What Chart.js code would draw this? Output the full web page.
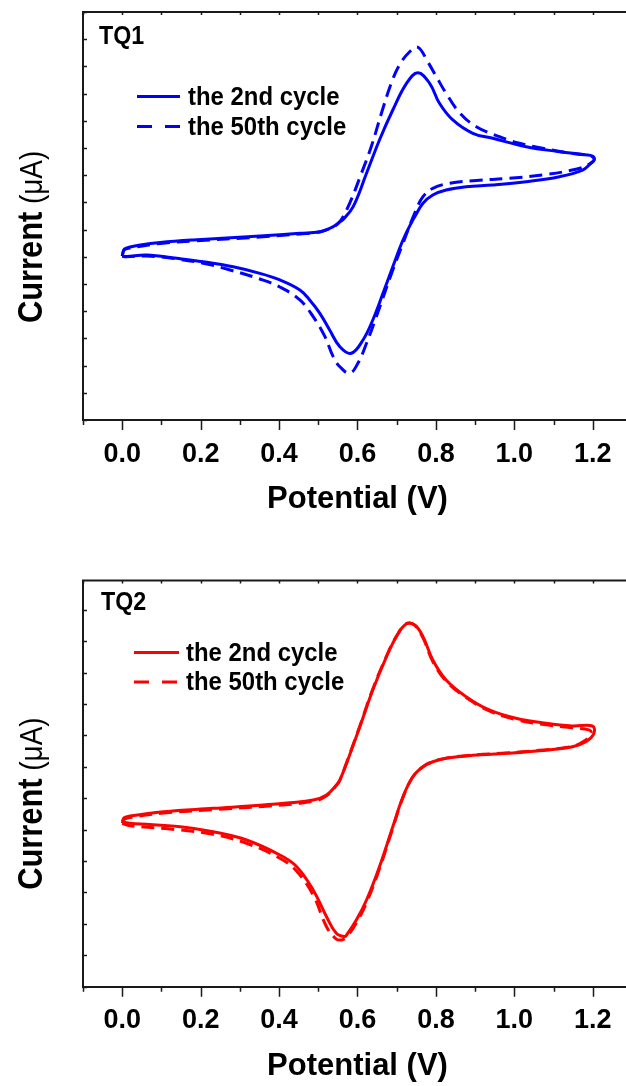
<!DOCTYPE html>
<html>
<head>
<meta charset="utf-8">
<script src="https://cdn.jsdelivr.net/npm/chart.js@4.4.0/dist/chart.umd.min.js"></script>
<style>
html, body { margin: 0; padding: 0; background: #fff; width: 626px; height: 1086px; overflow: hidden; }
canvas { position: absolute; left: 0; }
#tq1 { top: 0; }
#tq2 { top: 556px; }
</style>
</head>
<body>
<canvas id="tq1" width="640" height="530"></canvas>
<canvas id="tq2" width="640" height="530"></canvas>
<script>
// x axis tick labels (V)
const xTickLabels = ['0.0', '0.2', '0.4', '0.6', '0.8', '1.0', '1.2'];
const seriesNames = ['the 2nd cycle', 'the 50th cycle'];

// TQ1, 2nd cycle: potential (V) / current (uA)
const tq1c2V = [0.000, 0.005, 0.020, 0.046, 0.097, 0.181, 0.351, 0.453, 0.504, 0.538,
  0.555, 0.562, 0.589, 0.623, 0.656, 0.690, 0.725, 0.754, 0.784, 0.809,
  0.843, 0.894, 0.945, 1.030, 1.115, 1.180, 1.199, 1.204, 1.195, 1.174,
  1.115, 1.030, 0.945, 0.877, 0.826, 0.792, 0.767, 0.746, 0.741, 0.716,
  0.690, 0.665, 0.639, 0.614, 0.584, 0.555, 0.529, 0.504, 0.478, 0.453,
  0.402, 0.351, 0.283, 0.207, 0.139, 0.063, 0.010, 0.000];
const tq1c2I = [-5.9, -4.9, -4.56, -4.26, -3.90, -3.53, -2.94, -2.54, -2.31, -1.57,
  -0.84, -0.59, 1.37, 6.28, 11.18, 15.59, 19.51, 21.07, 19.51, 16.57,
  14.12, 12.16, 11.43, 10.19, 9.46, 9.0, 8.82, 8.3, 7.75, 6.76,
  5.78, 5.04, 4.56, 4.31, 3.82, 3.09, 1.87, -0.10, -0.59, -3.53,
  -7.46, -11.37, -15.29, -18.24, -20.19, -19.22, -16.76, -14.31, -12.35, -10.88,
  -9.41, -8.43, -7.46, -6.72, -6.22, -5.74, -5.95, -5.9];

// TQ1, 50th cycle
const tq1c50V = [0.000, 0.005, 0.020, 0.097, 0.181, 0.351, 0.453, 0.504, 0.537, 0.555,
  0.580, 0.610, 0.635, 0.661, 0.686, 0.707, 0.733, 0.754, 0.779, 0.801,
  0.826, 0.860, 0.903, 0.962, 1.013, 1.072, 1.140, 1.198, 1.203, 1.190,
  1.157, 1.072, 0.987, 0.903, 0.835, 0.792, 0.767, 0.746, 0.716, 0.690,
  0.648, 0.623, 0.601, 0.580, 0.555, 0.538, 0.517, 0.487, 0.453, 0.402,
  0.351, 0.275, 0.216, 0.139, 0.063, 0.010, 0.000];
const tq1c50I = [-5.9, -5.0, -4.71, -4.04, -3.68, -3.09, -2.65, -2.35, -1.62, -0.84,
  1.87, 6.28, 10.19, 15.10, 19.51, 22.21, 24.16, 24.81, 22.69, 20.49,
  18.04, 15.22, 13.13, 11.66, 10.69, 9.96, 9.26, 8.75, 8.2, 7.6,
  6.87, 6.03, 5.54, 5.22, 4.81, 4.07, 2.84, 0.44, -4.01, -7.94,
  -14.81, -18.72, -21.66, -23.13, -22.16, -20.69, -17.75, -14.81, -12.35, -10.44,
  -9.26, -7.94, -7.06, -6.32, -5.88, -6.0, -5.9];

// TQ2, 2nd cycle
const tq2c2V = [0.000, 0.005, 0.020, 0.105, 0.232, 0.359, 0.487, 0.521, 0.546, 0.555,
  0.580, 0.606, 0.639, 0.674, 0.699, 0.724, 0.746, 0.767, 0.792, 0.826,
  0.877, 0.936, 1.004, 1.081, 1.148, 1.199, 1.203, 1.182, 1.148, 1.064,
  0.979, 0.894, 0.826, 0.792, 0.767, 0.741, 0.716, 0.690, 0.656, 0.623,
  0.597, 0.572, 0.567, 0.546, 0.521, 0.487, 0.445, 0.402, 0.317, 0.232,
  0.148, 0.020, 0.000];
const tq2c2I = [-3.0, -2.5, -2.27, -1.72, -1.29, -0.87, -0.23, 0.40, 1.68, 2.31,
  5.5, 9.10, 13.77, 18.01, 20.56, 22.17, 22.05, 20.56, 17.59, 15.04,
  12.92, 11.23, 10.17, 9.53, 9.19, 9.19, 8.26, 7.19, 6.55, 6.04,
  5.71, 5.46, 5.08, 4.64, 4.01, 2.73, 0.19, -3.63, -8.72, -12.96,
  -15.51, -17.42, -17.63, -17.20, -15.09, -11.69, -8.72, -7.23, -5.32, -4.27,
  -3.63, -3.2, -3.0];

// TQ2, 50th cycle
const tq2c50V = [0.000, 0.005, 0.020, 0.105, 0.232, 0.359, 0.487, 0.521, 0.546, 0.555,
  0.580, 0.606, 0.639, 0.674, 0.699, 0.724, 0.746, 0.767, 0.792, 0.826,
  0.877, 0.936, 1.004, 1.081, 1.148, 1.190, 1.196, 1.182, 1.148, 1.064,
  0.979, 0.894, 0.826, 0.792, 0.767, 0.741, 0.716, 0.690, 0.656, 0.623,
  0.597, 0.572, 0.560, 0.545, 0.521, 0.487, 0.445, 0.402, 0.317, 0.232,
  0.148, 0.020, 0.000];
const tq2c50I = [-3.2, -2.7, -2.45, -1.9, -1.45, -1.05, -0.4, 0.3, 1.6, 2.3,
  5.6, 9.2, 13.9, 18.1, 20.6, 22.2, 22.0, 20.4, 17.4, 14.9,
  12.8, 11.1, 10.0, 9.35, 8.95, 8.7, 8.3, 7.4, 6.6, 6.1,
  5.75, 5.5, 5.1, 4.65, 4.0, 2.7, 0.1, -3.8, -9.0, -13.3,
  -15.9, -17.7, -18.05, -17.9, -16.36, -12.33, -9.3, -7.65, -5.74, -4.6,
  -4.05, -3.5, -3.2];

const FONT = '"Liberation Sans", Arial, sans-serif';
const FRAME = '#1a1a1a';

function pts(vs, is) {
  return vs.map((v, i) => ({ x: v, y: is[i] }));
}

// text a little narrower than the font, like the original figure
function narrowText(ctx, text, x, y, font, sx) {
  ctx.save();
  ctx.font = font;
  ctx.translate(x, y);
  ctx.scale(sx, 1);
  ctx.fillText(text, 0, 0);
  const w = ctx.measureText(text).width * sx;
  ctx.restore();
  return w;
}

// ticks, top border, legend, labels and axis titles
const decor = {
  id: 'decor',
  afterDraw(chart, args, o) {
    const { ctx, chartArea: a, scales: { x, y } } = chart;
    ctx.save();
    ctx.strokeStyle = FRAME;
    ctx.lineWidth = 2;
    ctx.beginPath();
    ctx.moveTo(a.left - 1, a.top);
    ctx.lineTo(a.right + 10, a.top);
    ctx.stroke();

    ctx.lineWidth = 1.5;
    x.ticks.forEach(t => {
      const px = Math.round(x.getPixelForValue(t.value)) + 0.5;
      const major = xTickLabels.includes(t.value.toFixed(1));
      ctx.beginPath();
      ctx.moveTo(px, a.bottom);
      ctx.lineTo(px, a.bottom + (major ? 10 : 5));
      ctx.moveTo(px, a.top);
      ctx.lineTo(px, a.top + 3);
      ctx.stroke();
    });
    y.ticks.forEach(t => {
      const k = (t.value - o.yMin) / o.yStep;
      if (Math.abs(k - Math.round(k)) > 1e-6) return;
      const py = Math.round(y.getPixelForValue(t.value)) + 0.5;
      ctx.beginPath();
      ctx.moveTo(a.left, py);
      ctx.lineTo(a.left + 4, py);
      ctx.stroke();
    });

    ctx.fillStyle = '#000';
    ctx.textBaseline = 'alphabetic';
    ctx.textAlign = 'left';

    // panel label
    narrowText(ctx, o.label, o.labelX, o.labelY, 'bold 25px ' + FONT, 0.93);

    // legend
    chart.data.datasets.forEach((ds, i) => {
      const ly = o.legendY + i * o.legendGap;
      ctx.strokeStyle = ds.borderColor;
      ctx.lineWidth = 3;
      ctx.setLineDash(ds.borderDash ? [15, 13] : []);
      ctx.beginPath();
      ctx.moveTo(o.legendX0, ly);
      ctx.lineTo(o.legendX1, ly);
      ctx.stroke();
      ctx.setLineDash([]);
      narrowText(ctx, ds.label, o.legendTextX, ly + 8, 'bold 26px ' + FONT, 0.92);
    });

    // x title
    ctx.font = 'bold 31px ' + FONT;
    ctx.textAlign = 'center';
    ctx.fillText('Potential (V)', (a.left + a.right) / 2, a.bottom + 88);

    // y title: bold word, lighter unit
    ctx.textAlign = 'left';
    ctx.translate(42, a.bottom - 97);
    ctx.rotate(-Math.PI / 2);
    const w = narrowText(ctx, 'Current', 0, 0, 'bold 35px ' + FONT, 0.88);
    narrowText(ctx, ' (\u03bcA)', w, 0, '31px ' + FONT, 0.9);
    ctx.restore();
  }
};

function makeChart(id, color, d2, d50, yMin, yMax, padTop, xHeight, deco) {
  return new Chart(document.getElementById(id), {
    type: 'scatter',
    data: {
      datasets: [
        { label: seriesNames[0], data: d2, showLine: true, borderColor: color,
          borderWidth: 3, pointRadius: 0, tension: 0.4, fill: false },
        { label: seriesNames[1], data: d50, showLine: true, borderColor: color,
          borderWidth: 3, borderDash: [13, 7], pointRadius: 0, tension: 0.4, fill: false }
      ]
    },
    options: {
      responsive: false,
      animation: false,
      devicePixelRatio: 1,
      layout: { padding: { top: padTop, right: 7, left: 0, bottom: 0 } },
      plugins: {
        legend: { display: false },
        tooltip: { enabled: false },
        decor: Object.assign({ yMin: yMin, yStep: 4 }, deco)
      },
      scales: {
        x: {
          type: 'linear', min: -0.1, max: 1.3,
          afterFit: s => { s.height = xHeight; },
          border: { display: true, color: FRAME, width: 2 },
          grid: { drawOnChartArea: false, tickLength: 10, tickColor: 'rgba(0,0,0,0)' },
          ticks: {
            stepSize: 0.1, autoSkip: false, maxRotation: 0, padding: 8,
            color: '#000', font: { family: FONT, size: 27, weight: 'bold' },
            callback: v => {
              const s = Number(v).toFixed(1);
              return xTickLabels.includes(s) ? s : '';
            }
          }
        },
        y: {
          type: 'linear', min: yMin, max: yMax,
          afterFit: s => { s.width = 83; },
          border: { display: true, color: FRAME, width: 2 },
          grid: { drawOnChartArea: false, drawTicks: false },
          ticks: { display: false, stepSize: 2 }
        }
      }
    },
    plugins: [decor]
  });
}

makeChart('tq1', '#0000ff', pts(tq1c2V, tq1c2I), pts(tq1c50V, tq1c50I), -30, 30, 12, 110, {
  label: 'TQ1', labelX: 99, labelY: 44,
  legendX0: 137, legendX1: 180, legendTextX: 188, legendY: 96.5, legendGap: 30
});
makeChart('tq2', '#ff0000', pts(tq2c2V, tq2c2I), pts(tq2c50V, tq2c50I), -24, 27.7, 24.6, 99.3, {
  label: 'TQ2', labelX: 101, labelY: 54,
  legendX0: 134, legendX1: 179, legendTextX: 186, legendY: 96.5, legendGap: 29.5
});
</script>
</body>
</html>
